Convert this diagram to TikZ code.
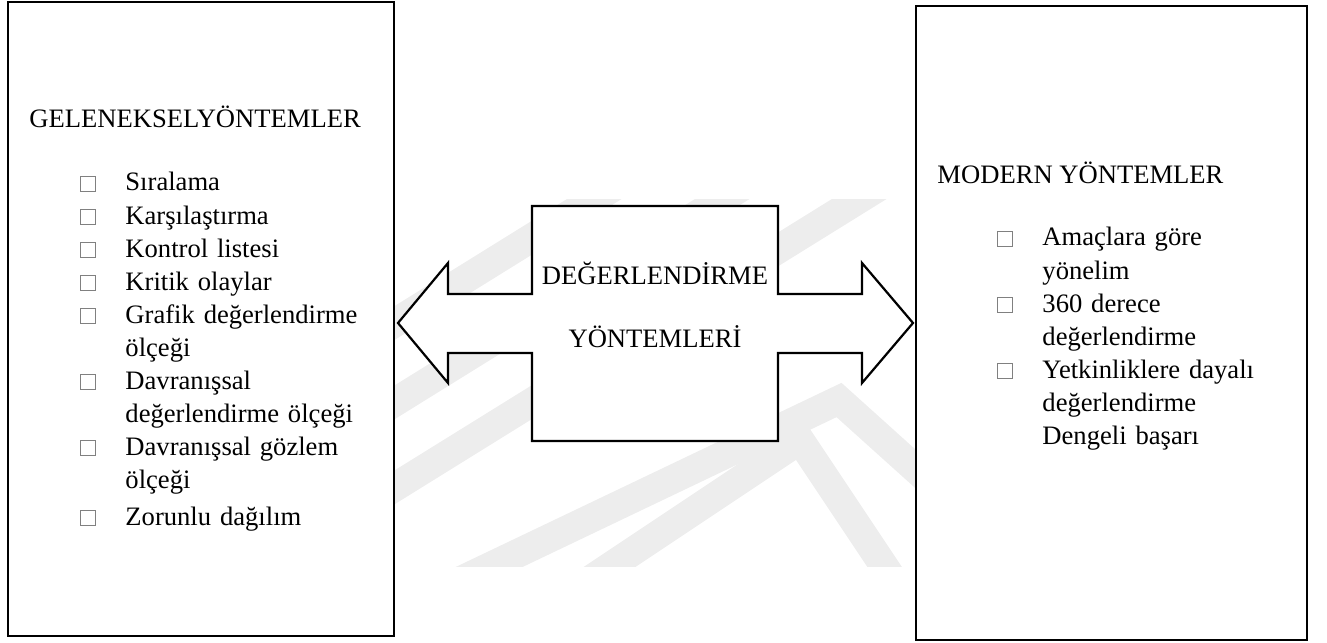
\documentclass[tikz,border=0pt]{standalone}
\usepackage{fontspec}
\setmainfont{Liberation Serif}
\usepackage{xcolor}
\usetikzlibrary{positioning}

\newcommand{\kutucuk}{{\color{gray}\fboxsep=0pt\fboxrule=0.45pt\fbox{\rule{0pt}{6.3pt}\rule{5.9pt}{0pt}}}}
\newcommand{\madde}{\makebox[20.3pt][l]{\kutucuk}}
\newcommand{\devam}{\hspace*{20.3pt}}

\begin{document}
\begin{tikzpicture}[x=0.451pt, y=-0.451pt,
	kutu/.style={draw, line width=1.2pt, fill=white},
	ok/.style={draw, line width=1pt, fill=white, line join=miter},
	filigran/.style={black!7, line width=13pt},
	yazi/.style={inner sep=0pt, font=\fontsize{12}{14.9}\selectfont},
	baslik/.style={yazi, anchor=base west},
	orta/.style={yazi, anchor=base},
	liste/.style={yazi, anchor=base west, text width=140pt, align=left}]
		\useasboundingbox (0,0) rectangle (1327,643);
		% silik filigran
		\begin{scope}
			\clip (0,200) rectangle (1327,567);
			\draw[filigran] (641,170) -- (190,450);
			\draw[filigran] (769,170) -- (76,600);
			\draw[filigran] (906,170) -- (213,600);
			\draw[filigran] (420,600) -- (839,400) -- (1050,590);
			\draw[filigran] (560,600) -- (800,440) -- (920,620);
		\end{scope}
		\draw[kutu] (8,2) rectangle (394,636);
		\draw[kutu] (916,6) rectangle (1307,640);
		\draw[ok] (398,323) -- (448,263) -- (448,294) -- (532,294) -- (532,206)
			-- (778,206) -- (778,294) -- (862,294) -- (862,263) -- (913,323)
			-- (862,383) -- (862,353) -- (778,353) -- (778,441) -- (532,441)
			-- (532,353) -- (448,353) -- (448,383) -- cycle;
		\node[orta] (deger) at (655,285) {DEĞERLENDİRME};
		\node[orta] (yontem) at (655,348) {YÖNTEMLERİ};
		\node[baslik] (geleneksel) at (29,128) {GELENEKSELYÖNTEMLER};
		\node[liste] (gelliste) at (80,191) {\madde Sıralama\\
			\madde Karşılaştırma\\
			\madde Kontrol listesi\\
			\madde Kritik olaylar\\
			\madde Grafik değerlendirme\\
			\devam ölçeği\\
			\madde Davranışsal\\
			\devam değerlendirme ölçeği\\
			\madde Davranışsal gözlem\\
			\devam ölçeği\\[1.8pt]
			\madde Zorunlu dağılım};
		\node[baslik] (modern) at (937,184) {MODERN YÖNTEMLER};
		\node[liste] (modliste) at (997,246) {\madde Amaçlara göre\\
			\devam yönelim\\
			\madde 360 derece\\
			\devam değerlendirme\\
			\madde Yetkinliklere dayalı\\
			\devam değerlendirme\\
			\devam Dengeli başarı};
\end{tikzpicture}
\end{document}
